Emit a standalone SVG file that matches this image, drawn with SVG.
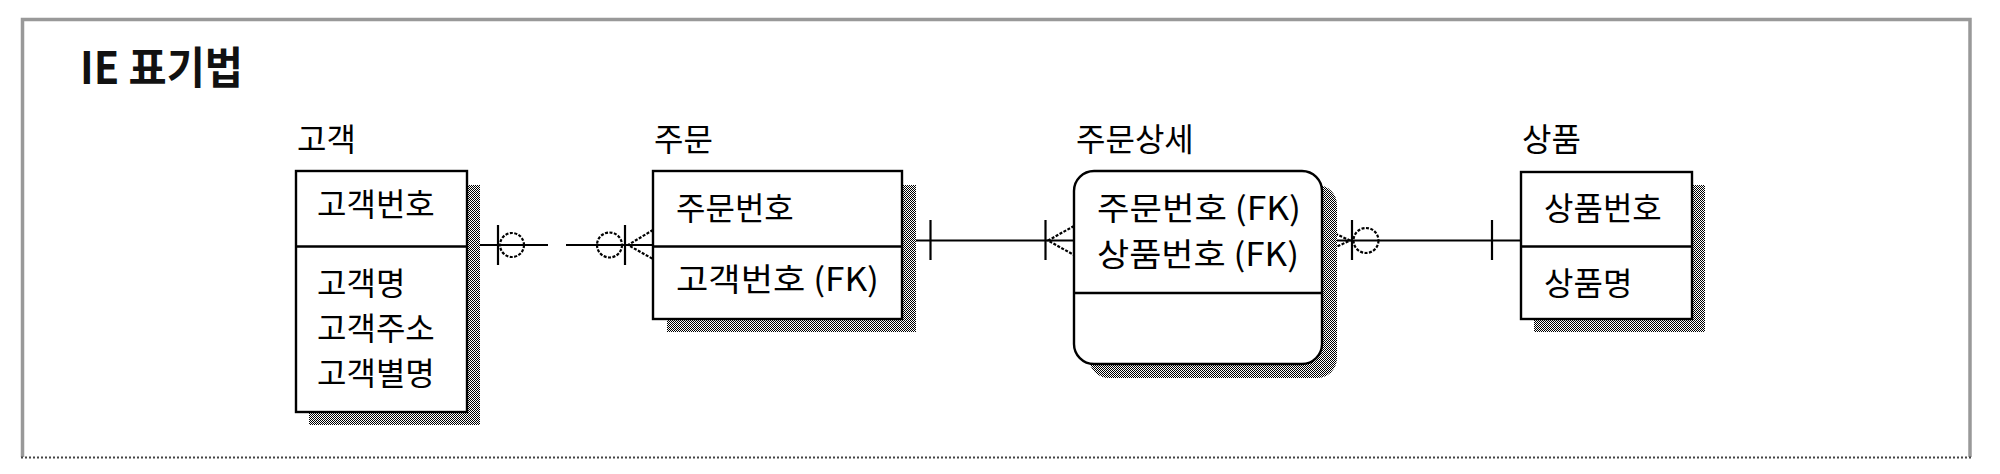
<svg xmlns="http://www.w3.org/2000/svg" width="2000" height="474" viewBox="0 0 2000 474">
<defs>
<pattern id="dither" width="2" height="2" patternUnits="userSpaceOnUse">
<rect width="2" height="2" fill="#fff"/>
<rect width="1" height="1" fill="#000"/>
<rect x="1" y="1" width="1" height="1" fill="#000"/>
</pattern>
<style>
.box{fill:#fff;stroke:#000;stroke-width:2.4}
.shadow{fill:url(#dither);stroke:none}
.div{stroke:#000;stroke-width:2.4}
.t{font-family:"Noto Sans CJK KR","Noto Sans",sans-serif;font-size:32px;fill:#000}
.title{font-family:"Noto Sans CJK KR","Noto Sans",sans-serif;font-size:44px;font-weight:bold;fill:#111}
.ln{stroke:#000;stroke-width:2.2;fill:none}
.dash{stroke:#000;stroke-width:2.2;fill:none;stroke-dasharray:3 1.5}
</style>
</defs>
<rect width="2000" height="474" fill="#fff"/>
<g id="frame">
<path d="M22.5 457 V19.5 H1970 V457" fill="none" stroke="#999" stroke-width="3.5"/>
<line x1="21" y1="457.5" x2="1972" y2="457.5" stroke="#444" stroke-width="2" stroke-dasharray="2 2"/>
<text class="title" x="80" y="84" textLength="163" lengthAdjust="spacingAndGlyphs">IE 표기법</text>
</g>
<g id="connectors">
<!-- 고객 - 주문 -->
<line class="ln" x1="467" y1="245" x2="548" y2="245"/>
<line class="ln" x1="566" y1="245" x2="653" y2="245"/>
<line class="ln" x1="498" y1="225" x2="498" y2="265"/>
<circle class="dash" cx="512" cy="245" r="12"/>
<circle class="dash" cx="609.5" cy="245" r="12.5"/>
<line class="ln" x1="625" y1="225" x2="625" y2="265"/>
<path class="dash" d="M653 230 L628 245 L653 259"/>
<!-- 주문 - 주문상세 -->
<line class="ln" x1="902" y1="240.5" x2="1074" y2="240.5"/>
<line class="ln" x1="930.5" y1="220" x2="930.5" y2="260"/>
<line class="ln" x1="1045.5" y1="220" x2="1045.5" y2="260"/>
<path class="dash" d="M1074 226 L1048 240.5 L1074 255"/>
<!-- 주문상세 - 상품 -->
<line class="ln" x1="1322" y1="240.5" x2="1521" y2="240.5"/>
<path class="dash" d="M1323 228 L1350 240.5 L1323 253"/>
<line class="ln" x1="1352" y1="220" x2="1352" y2="260"/>
<circle class="dash" cx="1366" cy="240.5" r="12.5"/>
<line class="ln" x1="1492" y1="220" x2="1492" y2="260"/>
</g>
<g id="customer">
<rect class="shadow" x="309" y="185" width="171" height="240"/>
<rect class="box" x="296" y="171" width="171" height="241"/>
<line class="div" x1="296" y1="246.5" x2="467" y2="246.5"/>
<text class="t" x="297" y="151">고객</text>
<text class="t" x="317" y="216">고객번호</text>
<text class="t" x="317" y="295">고객명</text>
<text class="t" x="317" y="340">고객주소</text>
<text class="t" x="317" y="385">고객별명</text>
</g>
<g id="order">
<rect class="shadow" x="667" y="185" width="249" height="147"/>
<rect class="box" x="653" y="171" width="249" height="148"/>
<line class="div" x1="653" y1="246.5" x2="902" y2="246.5"/>
<text class="t" x="654" y="151">주문</text>
<text class="t" x="676" y="220">주문번호</text>
<text class="t" x="676" y="291" textLength="203" lengthAdjust="spacingAndGlyphs">고객번호 (FK)</text>
</g>
<g id="order-detail">
<rect class="shadow" x="1089" y="185" width="248" height="193" rx="20" ry="20"/>
<rect class="box" x="1074" y="171" width="248" height="193" rx="20" ry="20"/>
<line class="div" x1="1074" y1="293" x2="1322" y2="293"/>
<text class="t" x="1076" y="151">주문상세</text>
<text class="t" x="1097" y="220" textLength="204" lengthAdjust="spacingAndGlyphs">주문번호 (FK)</text>
<text class="t" x="1097" y="266" textLength="202" lengthAdjust="spacingAndGlyphs">상품번호 (FK)</text>
</g>
<g id="product">
<rect class="shadow" x="1534" y="185" width="171" height="147"/>
<rect class="box" x="1521" y="172" width="171" height="147"/>
<line class="div" x1="1521" y1="246.5" x2="1692" y2="246.5"/>
<text class="t" x="1522" y="151">상품</text>
<text class="t" x="1544" y="220">상품번호</text>
<text class="t" x="1544" y="295">상품명</text>
</g>
</svg>
